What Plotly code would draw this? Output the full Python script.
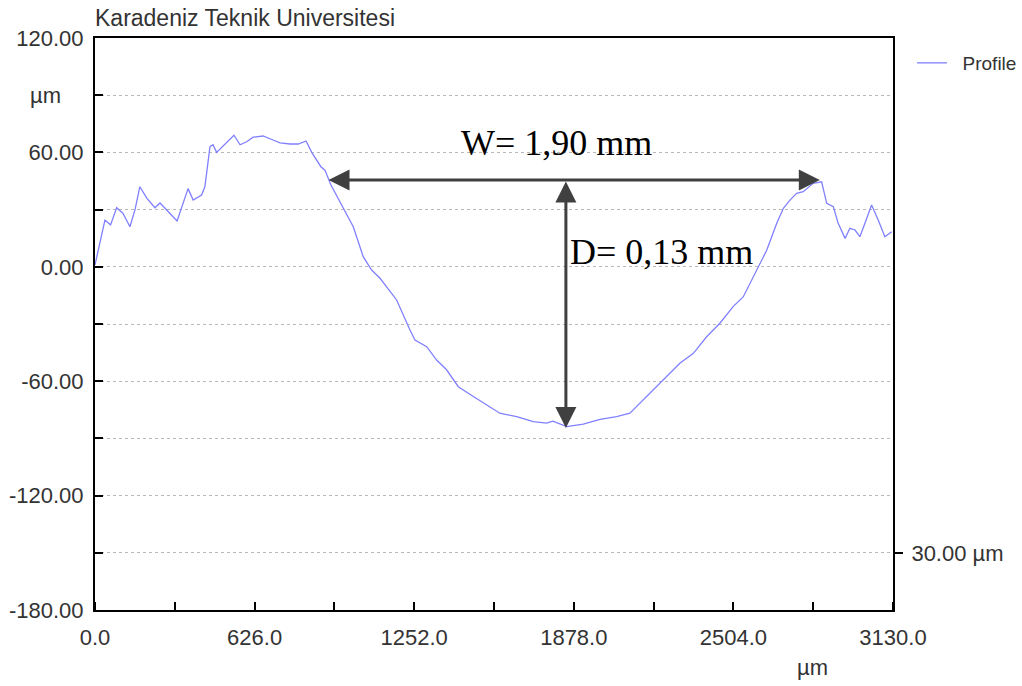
import plotly.graph_objects as go

# ---- data ----
x_um = [0, 39, 61, 85, 110, 137, 157, 176, 203, 235, 255, 294, 322, 365, 385, 418, 431, 451, 463, 477,
        517, 545, 569, 595, 620, 659, 698, 726, 765, 797, 828, 850, 886, 902, 925, 967, 1013, 1052, 1085,
        1118, 1183, 1235, 1255, 1301, 1340, 1379, 1425, 1484, 1536, 1588, 1654, 1719, 1771, 1796, 1850,
        1915, 1981, 2046, 2098, 2137, 2190, 2242, 2294, 2347, 2399, 2451, 2503, 2543, 2569, 2595, 2635,
        2674, 2700, 2726, 2752, 2778, 2817, 2850, 2870, 2896, 2915, 2942, 2961, 2981, 3000, 3020, 3046,
        3072, 3098, 3125]
profile_um = [1, 24.5, 22, 31, 28, 21, 30, 42, 36, 31, 33.5, 28, 24, 41, 35, 37.6, 42, 63, 64, 60,
              65, 69, 64, 65.6, 68, 68.6, 66.5, 65, 64.4, 64.4, 66, 60, 52.5, 50.7, 43, 32.4, 21, 5.3, -1.7,
              -6, -17.4, -33, -38.4, -41.9, -48.9, -54, -62.9, -68, -72.5, -76.8, -78.6, -81.2, -82, -81, -83.8,
              -82.5, -80, -78.6, -76.8, -71.6, -64.6, -57.6, -50.6, -45.4, -36.7, -29.6, -20.9, -15.7, -8.7, -1.7, 8.8,
              22.8, 30.7, 35, 38.5, 39.4, 43.8, 44.6, 33.3, 31.5, 22.8, 14.9, 20.2, 19.3, 15.8, 22.8, 32.4,
              24.5, 15.8, 18.4]

x_ticks = [0, 626, 1252, 1878, 2504, 3130]
x_tick_labels = ["0.0", "626.0", "1252.0", "1878.0", "2504.0", "3130.0"]
y_ticks = [120, 90, 60, 30, 0, -30, -60, -90, -120, -150, -180]
y_tick_labels = ["120.00", "", "60.00", "", "0.00", "", "-60.00", "", "-120.00", "", "-180.00"]

# measurement annotations
w_y = 45.5
w_start, w_end = 910, 2843
d_x = 1847
d_top, d_bottom = 45.5, -84.6
w_label = "W= 1,90 mm"
d_label = "D= 0,13 mm"

fig = go.Figure()
fig.add_trace(go.Scatter(x=x_um, y=profile_um, mode="lines", name="\u00a0\u00a0Profile",
                         line=dict(color="#8080ff", width=1.3)))
fig.add_trace(go.Scatter(x=[None], y=[None], yaxis="y2", showlegend=False, hoverinfo="skip"))

font_axis = dict(family="Liberation Sans, Arial", size=22, color="#333333")

fig.update_layout(
    width=1022, height=686,
    margin=dict(l=95, r=129, t=38, b=76, autoexpand=False),
    paper_bgcolor="white", plot_bgcolor="white",
    showlegend=True,
    legend=dict(x=1.0238, y=1.0 - 6 / 572, xanchor="left", yanchor="top",
                font=dict(family="Liberation Sans, Arial", size=19, color="#333333"),
                bgcolor="rgba(0,0,0,0)"),
    xaxis=dict(range=[0, 3130], tickvals=x_ticks, ticktext=x_tick_labels, automargin=False,
               ticks="", showgrid=False, zeroline=False,
               showline=True, linecolor="black", linewidth=2, mirror=True,
               tickfont=font_axis, ticklabelstandoff=7,
               minor=dict(dtick=313, tick0=0, ticks="inside", ticklen=8, tickcolor="black",
                          tickwidth=1.5, showgrid=False)),
    yaxis=dict(range=[-180, 120], tickvals=y_ticks, ticktext=y_tick_labels, automargin=False,
               ticks="inside", ticklen=8, tickcolor="black", tickwidth=1.5,
               showgrid=True, gridcolor="#b8b8b8", griddash="dot", gridwidth=1,
               zeroline=False, showline=True, linecolor="black", linewidth=2, mirror=True,
               tickfont=font_axis, ticklabelstandoff=5),
    yaxis2=dict(range=[-180, 120], overlaying="y", side="right", anchor="x", automargin=False,
                tickvals=[-150], ticktext=["30.00 µm"], ticks="outside", ticklen=8,
                tickcolor="black", tickwidth=1.5, showgrid=False, zeroline=False,
                showline=True, linecolor="black", linewidth=2,
                tickfont=font_axis, ticklabelstandoff=4),
)

annos = [
    dict(xref="paper", yref="paper", x=-0.003, y=1.035, xanchor="left", yanchor="middle",
         text="Karadeniz Teknik Universitesi", showarrow=False,
         font=dict(family="Liberation Sans, Arial", size=23, color="#333333")),
    dict(xref="paper", yref="y", x=-0.084, y=90, xanchor="left", yanchor="middle",
         text="µm", showarrow=False, font=font_axis),
    dict(xref="x", yref="paper", x=2816, y=-0.101, xanchor="center", yanchor="middle",
         text="µm", showarrow=False, font=font_axis),
    dict(xref="x", yref="y", x=w_end, y=w_y, ax=w_start, ay=w_y, axref="x", ayref="y",
         text="", showarrow=True, arrowhead=2, arrowside="end+start", arrowsize=1.4,
         arrowwidth=3, arrowcolor="#404040"),
    dict(xref="x", yref="y", x=d_x, y=d_bottom, ax=d_x, ay=d_top, axref="x", ayref="y",
         text="", showarrow=True, arrowhead=2, arrowside="end+start", arrowsize=1.4,
         arrowwidth=3, arrowcolor="#404040"),
    dict(xref="x", yref="y", x=1812, y=65, xanchor="center", yanchor="middle",
         text=w_label, showarrow=False,
         font=dict(family="Liberation Serif, Times New Roman", size=36, color="black")),
    dict(xref="x", yref="y", x=1855, y=7.7, xanchor="left", yanchor="middle",
         text=d_label, showarrow=False,
         font=dict(family="Liberation Serif, Times New Roman", size=36, color="black")),
]
fig.update_layout(annotations=annos)

fig.write_html("out.html", config={"displayModeBar": False},
               post_script="document.body.style.margin='0px';")
